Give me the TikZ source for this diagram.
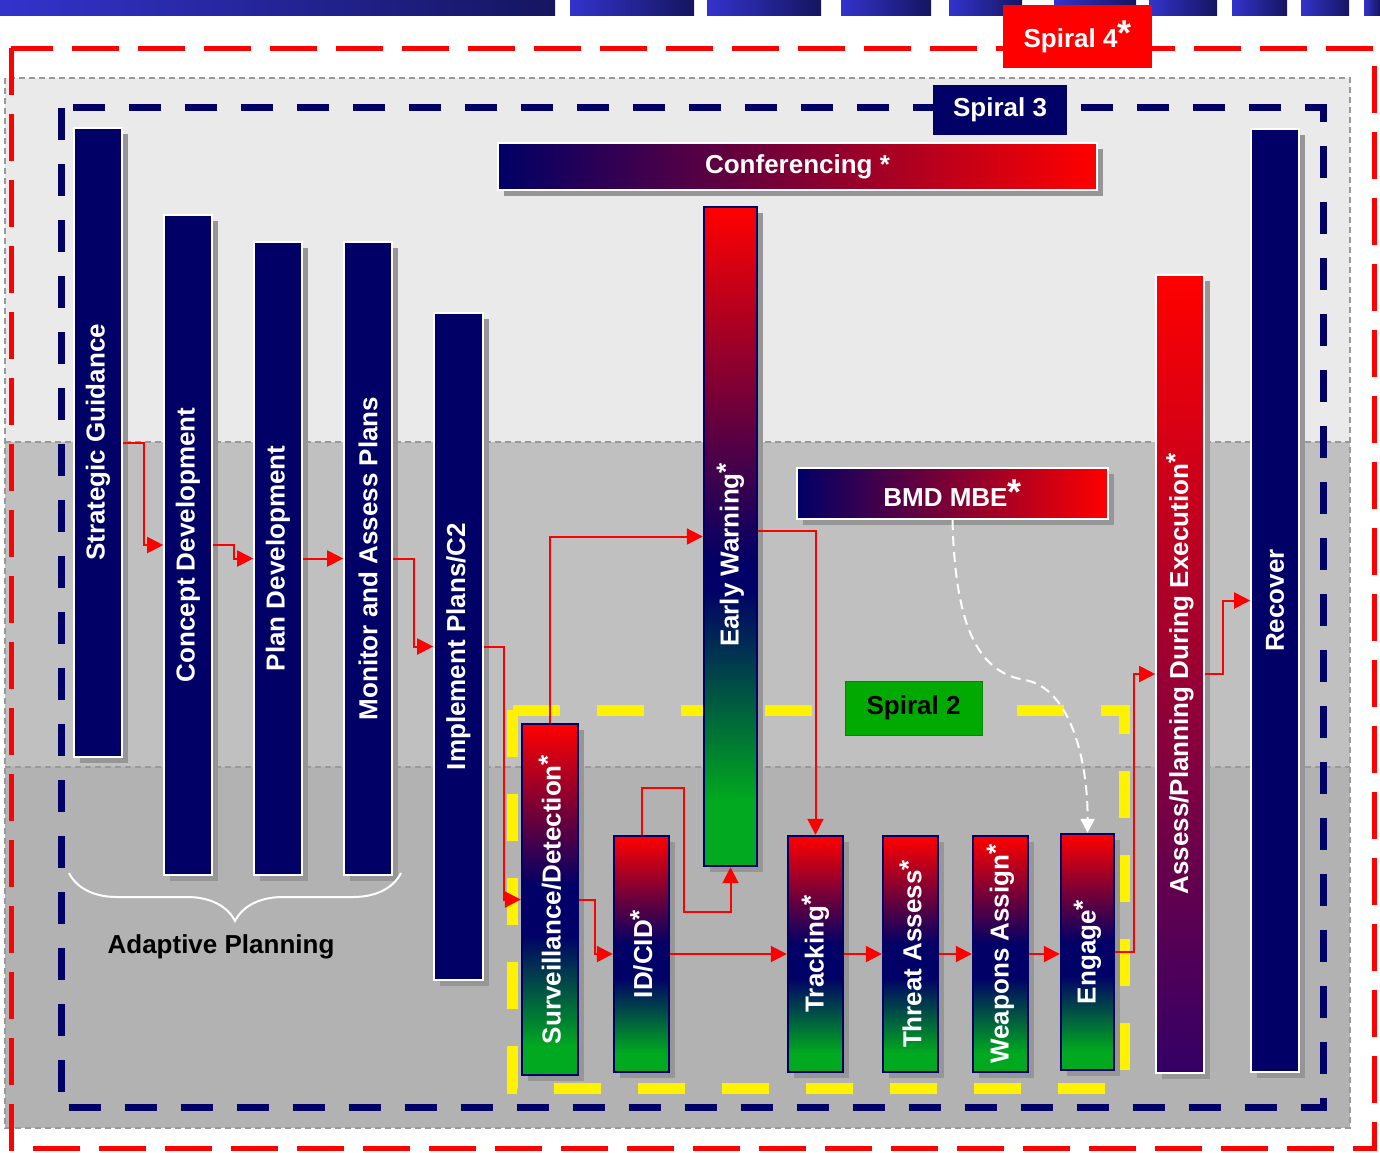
\documentclass[tikz,border=0pt]{standalone}
\usepackage{fontspec}
\setmainfont{Liberation Sans}
\usepackage{graphicx}
\usetikzlibrary{arrows.meta,shadows,decorations.pathreplacing}

\definecolor{navy}{HTML}{000066}
\definecolor{sgreen}{HTML}{00A91F}
\definecolor{spiralgreen}{HTML}{00AA00}
\definecolor{zonelight}{HTML}{EAEAEA}
\definecolor{zonemid}{HTML}{C0C0C0}
\definecolor{zonedark}{HTML}{B2B2B2}
\definecolor{zoneline}{HTML}{999999}
\definecolor{shadowgray}{HTML}{969696}
\definecolor{stripeblue}{HTML}{3333CC}
\definecolor{stripedark}{HTML}{151560}
\definecolor{apbottom}{HTML}{330066}

\newcommand{\sstar}{\raisebox{2pt}{*}}
\newcommand{\bigstar}{\raisebox{1pt}{\fontsize{18}{18}\selectfont *}}

\pgfdeclareverticalshading{warnshade}{100bp}{color(0bp)=(sgreen); color(30bp)=(sgreen); color(46bp)=(navy); color(48bp)=(navy); color(75bp)=(red); color(100bp)=(red)}
\pgfdeclareverticalshading{phaseshade}{100bp}{color(0bp)=(sgreen); color(29bp)=(sgreen); color(45bp)=(navy); color(52bp)=(navy); color(75bp)=(red); color(100bp)=(red)}

\begin{document}
\begin{tikzpicture}[x=0.5pt, y=-0.5pt,
	bar/.style={rectangle, inner sep=0pt, text=white, font=\fontsize{13}{15}\selectfont\bfseries, drop shadow={shadow xshift=3pt, shadow yshift=-3pt, fill=shadowgray, opacity=1}},
	navybar/.style={bar, fill=navy, draw=white, line width=0.8pt},
	phasebar/.style={bar, shade, shading=phaseshade, draw=navy, line width=1.2pt},
	tag/.style={rectangle, inner sep=0pt, font=\fontsize{13}{15}\selectfont\bfseries},
	flow/.style={red, line width=1pt, -{Triangle[length=8pt, width=8pt]}},
	bmdflow/.style={white, line width=1pt, dash pattern=on 5pt off 3pt, -{Triangle[length=7pt, width=7pt]}}]
	
	\useasboundingbox (0,0) rectangle (1380,1152);
	
	\shade[left color=stripeblue, right color=stripedark] (0,0) rectangle (555,15);
	\shade[left color=stripeblue, right color=stripedark] (570,0) rectangle (694,15);
	\shade[left color=stripeblue, right color=stripedark] (707,0) rectangle (821,15);
	\shade[left color=stripeblue, right color=stripedark] (841,0) rectangle (931,15);
	\shade[left color=stripeblue, right color=stripedark] (949,0) rectangle (1022,15);
	\shade[left color=stripeblue, right color=stripedark] (1054,0) rectangle (1136,15);
	\shade[left color=stripeblue, right color=stripedark] (1149,0) rectangle (1217,15);
	\shade[left color=stripeblue, right color=stripedark] (1232,0) rectangle (1287,15);
	\shade[left color=stripeblue, right color=stripedark] (1301,0) rectangle (1349,15);
	\shade[left color=stripeblue, right color=stripedark] (1364,0) rectangle (1380,15);
	
	\fill[zonelight] (5,78) rectangle (1350,442);
	\fill[zonemid] (5,442) rectangle (1350,767);
	\fill[zonedark] (5,767) rectangle (1350,1128);
	\draw[zoneline, line width=0.75pt, dash pattern=on 3pt off 2pt] (5,78) rectangle (1350,1128);
	\draw[zoneline, line width=0.75pt, dash pattern=on 3pt off 2pt] (5,442) -- (1350,442);
	\draw[zoneline, line width=0.75pt, dash pattern=on 3pt off 2pt] (5,767) -- (1350,767);
	
	\draw[red, line width=2.5pt, dash pattern=on 23.5pt off 9.5pt] (11,48) rectangle (1374,1148);
	\draw[navy, line width=3.5pt, dash pattern=on 16pt off 12pt] (61,107.5) rectangle (1323,1107.5);
	\draw[yellow, line width=5.5pt, dash pattern=on 23.5pt off 18.5pt] (512,710) rectangle (1124,1088);
	
	\node[tag, fill=red, text=white, minimum width=74.5pt, minimum height=31.5pt] (S4) at (1077.5,36.5) {\raisebox{-2pt}{Spiral 4\bigstar}};
	\node[tag, fill=navy, text=white, minimum width=67pt, minimum height=25pt] (S3) at (1000,110) {Spiral 3};
	\node[tag, fill=spiralgreen, draw=spiralgreen!80!black, line width=0.5pt, text=black, minimum width=68.5pt, minimum height=27pt] (S2) at (913.5,708) {Spiral 2};
	
	\node[bar, left color=navy, right color=red, draw=white, line width=1pt, minimum width=299.5pt, minimum height=23.5pt] (CF) at (797.5,166.5) {Conferencing *};
	\node[bar, left color=navy, right color=red, draw=white, line width=1pt, minimum width=155.5pt, minimum height=25.5pt] (BM) at (952.5,493.5) {BMD MBE\bigstar};
	
	\node[navybar, minimum width=24pt, minimum height=314.5pt] (SG) at (98,442.5) {\rotatebox{90}{Strategic Guidance}};
	\node[navybar, minimum width=24pt, minimum height=330pt] (CD) at (188,545) {\rotatebox{90}{Concept Development}};
	\node[navybar, minimum width=24pt, minimum height=316.5pt] (PD) at (278,558.5) {\rotatebox{90}{Plan Development}};
	\node[navybar, minimum width=24pt, minimum height=316.5pt] (MA) at (368,558.5) {\rotatebox{90}{Monitor and Assess Plans}};
	\node[navybar, minimum width=24.5pt, minimum height=333.5pt] (IP) at (458.5,646.5) {\rotatebox{90}{Implement Plans/C2}};
	\node[navybar, minimum width=24pt, minimum height=471.5pt] (RC) at (1275,600.5) {\rotatebox{90}{Recover}};
	\node[bar, top color=red, bottom color=apbottom, draw=white, line width=0.8pt, minimum width=24pt, minimum height=399pt] (AP) at (1180,674) {\rotatebox{90}{Assess/Planning During Execution\sstar}};
	
	\node[bar, shade, shading=warnshade, draw=navy, line width=1.2pt, minimum width=26.5pt, minimum height=329.5pt] (EW) at (730.5,536.5) {\rotatebox{90}{Early Warning\sstar\hspace{18.5pt}}};
	
	\node[phasebar, minimum width=28pt, minimum height=175.5pt] (SD) at (550,899.5) {\rotatebox{90}{Surveillance/Detection\sstar}};
	\node[phasebar, minimum width=27.5pt, minimum height=118pt] (ID) at (641.5,954) {\rotatebox{90}{ID/CID\sstar}};
	\node[phasebar, minimum width=27.5pt, minimum height=118pt] (TR) at (815.5,954) {\rotatebox{90}{Tracking\sstar}};
	\node[phasebar, minimum width=27.5pt, minimum height=118pt] (TA) at (910.5,954) {\rotatebox{90}{Threat Assess\sstar}};
	\node[phasebar, minimum width=27.5pt, minimum height=118pt] (WA) at (1000.5,954) {\rotatebox{90}{Weapons Assign\sstar}};
	\node[phasebar, minimum width=26.5pt, minimum height=118pt] (EN) at (1087.5,952) {\rotatebox{90}{Engage\sstar}};
	
	\draw[white, line width=1pt, decorate, decoration={brace, amplitude=24pt}] (401,873) -- (69,873);
	\node[tag, text=black] (AD) at (221,947) {Adaptive Planning};
	
	\draw[flow] (SG.east) -- ++(21,0) |- (CD.west);
	\draw[flow] (CD.east) -- ++(21,0) |- (PD.west);
	\draw[flow] (PD.east) -- (MA.west);
	\draw[flow] (MA.east) -- ++(21,0) |- (IP.west);
	\draw[flow] (IP.east) -- ++(20,0) |- (SD.west);
	\draw[flow] (SD.north) |- (EW.west);
	\draw[flow] (SD.east) -- ++(16,0) |- (ID.west);
	\draw[flow] (ID.north) -- ++(0,-47) -- ++(42,0) -- ++(0,124) -| (EW.south);
	\draw[flow] (ID.east) -- (TR.west);
	\draw[flow] ([yshift=3pt]EW.east) -| (TR.north);
	\draw[flow] (TR.east) -- (TA.west);
	\draw[flow] (TA.east) -- (WA.west);
	\draw[flow] (WA.east) -- (WA.east -| EN.west);
	\draw[flow] (EN.east) -- ++(19,0) |- (AP.west);
	\draw[flow] (AP.east) -- ++(18,0) |- (RC.west);
	\draw[bmdflow] (BM.south) .. controls (955,620) and (975,672) .. (1025,680) .. controls (1070,688) and (1088,760) .. (EN.north);
\end{tikzpicture}
\end{document}
